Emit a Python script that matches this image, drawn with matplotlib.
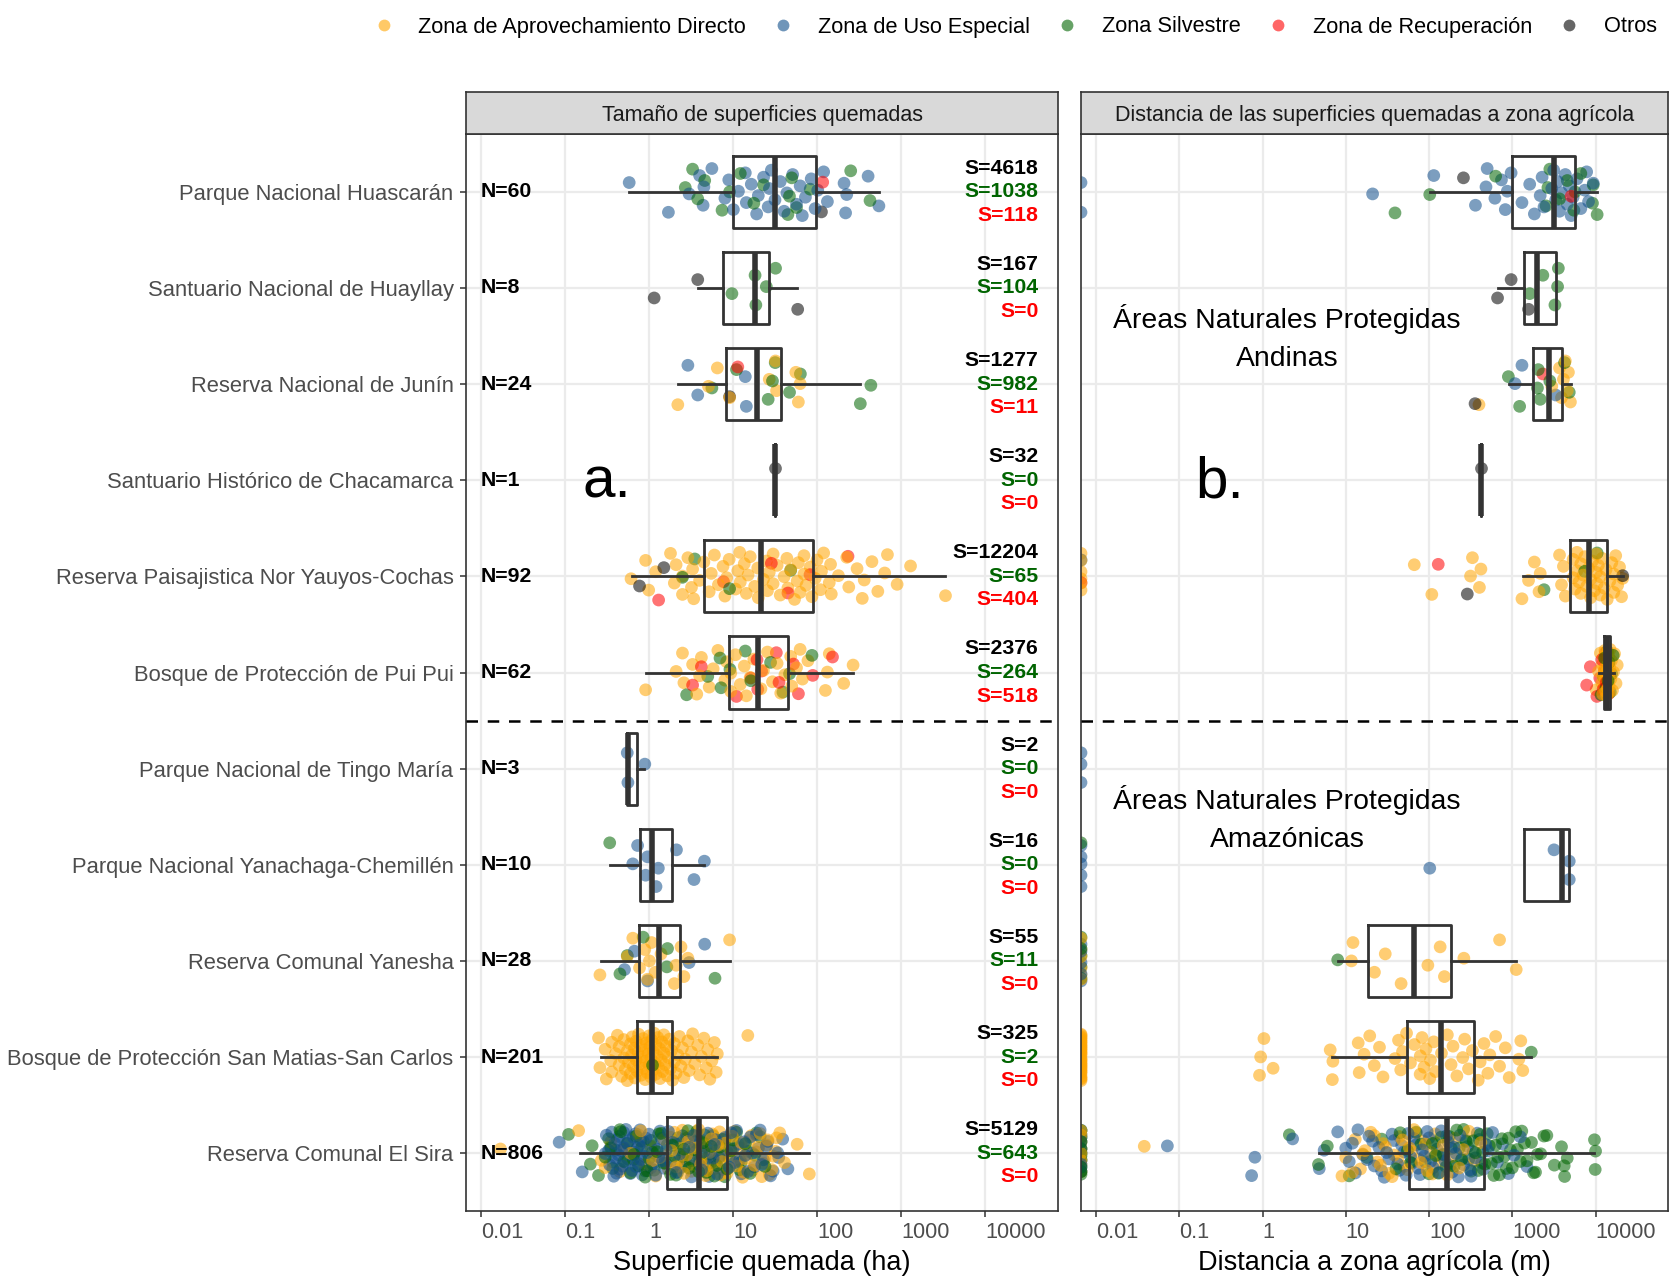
import numpy as np
import matplotlib
matplotlib.use("Agg")
import matplotlib.pyplot as plt
from matplotlib.lines import Line2D
from matplotlib.ticker import NullLocator
import matplotlib.transforms as mtransforms

plt.rcParams["font.family"] = ["Liberation Sans", "DejaVu Sans"]

# ---------------------------------------------------------------- data
anp_keys = ["Huascaran", "Huayllay", "Junin", "Chacamarca", "NorYauyos", "PuiPui",
            "TingoMaria", "Yanachaga", "Yanesha", "SanMatias", "ElSira"]
anp_labels = ["Parque Nacional Huascarán", "Santuario Nacional de Huayllay",
              "Reserva Nacional de Junín", "Santuario Histórico de Chacamarca",
              "Reserva Paisajistica Nor Yauyos-Cochas", "Bosque de Protección de Pui Pui",
              "Parque Nacional de Tingo María", "Parque Nacional Yanachaga-Chemillén",
              "Reserva Comunal Yanesha", "Bosque de Protección San Matias-San Carlos",
              "Reserva Comunal El Sira"]
n_obs = [60, 8, 24, 1, 92, 62, 3, 10, 28, 201, 806]
s_total = [4618, 167, 1277, 32, 12204, 2376, 2, 16, 55, 325, 5129]
s_silvestre = [1038, 104, 982, 0, 65, 264, 0, 0, 11, 2, 643]
s_recuperacion = [118, 0, 11, 0, 404, 518, 0, 0, 0, 0, 0]

zones = ["Zona de Aprovechamiento Directo", "Zona de Uso Especial", "Zona Silvestre",
         "Zona de Recuperación", "Otros"]
zone_colors = ["#FFA500", "#104E8B", "#006400", "#FF0000", "#000000"]

# superficie quemada (ha) per zone
sup_directo = {
    "Junin": [2.2, 5.1, 6.5, 9.1, 27, 32, 33, 56, 60, 63],
    "NorYauyos": [0.61, 0.91, 0.99, 1.2, 1.8, 2.0, 2.1, 2.5, 2.5, 2.9, 3.2, 3.3, 3.4, 4.0, 4.5,
                  5.2, 5.5, 6.0, 6.7, 7.6, 8.0, 8.4, 9.0, 10.7, 11.4, 12, 12.2, 13.6, 14.4, 15.1,
                  16, 18.1, 19.7, 20, 23, 25, 25.7, 27, 30, 30, 33.5, 36.5, 40.6, 43.8, 45, 48.6,
                  54, 58, 60, 63, 70, 70, 74, 83, 87, 95, 100, 110, 113, 120, 140, 145, 148,
                  180, 226, 239, 300, 346, 365, 451, 530, 640, 690, 900, 1300, 3390],
    "PuiPui": [0.91, 2.1, 2.5, 2.6, 3.3, 3.7, 4.0, 4.2, 5.2, 5.8, 6.6, 8.0, 8.4, 9.4, 9.4, 10.7,
               12.2, 13.6, 14.4, 16, 17.7, 21.5, 23, 25.7, 29.5, 33.5, 37, 41.5, 48.6, 50, 57,
               63, 67, 78, 126, 133, 140, 208, 269],
    "Yanesha": [0.26, 0.55, 0.64, 0.77, 0.89, 0.96, 1.01, 1.07, 1.19, 1.39, 2.0, 2.1, 2.4, 2.6,
                2.9, 9.1],
    "SanMatias": [0.25, 0.26, 0.3, 0.31, 0.35, 0.36, 0.36, 0.4, 0.42, 0.44, 0.44, 0.47, 0.5, 0.5,
                  0.52, 0.55, 0.55, 0.57, 0.6, 0.6, 0.62, 0.63, 0.65, 0.67, 0.68, 0.7, 0.7, 0.72,
                  0.74, 0.75, 0.77, 0.8, 0.8, 0.82, 0.85, 0.86, 0.88, 0.9, 0.9, 0.93, 0.95, 0.97,
                  1.0, 1.0, 1.02, 1.05, 1.05, 1.08, 1.1, 1.12, 1.15, 1.18, 1.2, 1.2, 1.25, 1.27,
                  1.3, 1.34, 1.35, 1.4, 1.42, 1.45, 1.5, 1.5, 1.55, 1.6, 1.65, 1.7, 1.75, 1.8,
                  1.85, 1.9, 2.0, 2.0, 2.1, 2.2, 2.3, 2.4, 2.5, 2.6, 2.7, 2.9, 3.0, 3.2, 3.3,
                  3.5, 3.8, 4.0, 4.2, 4.5, 4.8, 5.0, 5.3, 5.6, 6.0, 6.3, 6.5, 15],
    "ElSira": [0.017, 0.145, 0.27, 0.35, 0.45, 0.6, 0.75, 0.9, 1.05, 1.2, 1.35, 1.5, 1.7, 1.85,
               2.0, 2.2, 2.4, 2.6, 2.8, 3.0, 3.3, 3.6, 3.9, 4.2, 4.5, 4.9, 5.3, 5.7, 6.1, 6.6,
               7.1, 7.6, 8.2, 8.8, 9.5, 10.5, 11.5, 12.5, 13.5, 15, 16.5, 18, 20, 22, 24, 26,
               29, 32, 36, 41, 58, 81, 1.6, 1.8, 2.1, 2.3, 2.5, 2.7, 2.9, 3.2, 3.5, 3.7, 4.1,
               4.4, 4.7, 5.1, 5.5, 6.0, 6.4, 6.9, 7.4, 8.0, 8.5, 9.2, 9.8, 11, 12, 13, 14, 15.5,
               17, 19, 21, 23, 25, 27, 30, 33, 0.3, 0.5, 0.8, 1.1],
}
sup_uso = {
    "Huascaran": [0.58, 1.7, 3.0, 4.0, 4.4, 4.5, 5.6, 8.0, 8.9, 10.1, 11.6, 14.0, 14.4, 16.5,
                  19.1, 20, 23.1, 26.2, 27.1, 28.6, 31.6, 36.5, 40.6, 43.8, 51.3, 57, 63, 66.8,
                  72.8, 85.3, 95, 102, 120, 133, 210, 219, 226, 406, 546],
    "Junin": [2.9, 3.8, 14.0, 14.4],
    "TingoMaria": [0.55, 0.56, 0.89],
    "Yanachaga": [0.64, 0.73, 0.91, 0.96, 1.21, 1.29, 2.12, 3.43, 4.56],
    "Yanesha": [0.51, 0.67, 0.96, 3.0, 4.6],
    "ElSira": [0.085, 0.16, 0.3, 0.31, 0.34, 0.35, 0.38, 0.4, 0.42, 0.45, 0.47, 0.5, 0.52, 0.55,
               0.6, 0.62, 0.65, 0.7, 0.72, 0.78, 0.8, 0.85, 0.9, 0.95, 1.0, 1.1, 1.15, 1.2, 1.3,
               1.4, 1.5, 1.6, 1.7, 1.8, 2.0, 2.1, 2.3, 2.5, 2.7, 3.0, 3.2, 3.5, 3.8, 4.2, 4.5,
               5.0, 5.5, 6.0, 6.5, 7.0, 8.0, 9.0, 10, 11, 12, 13.5, 15, 17, 19, 22, 25, 28, 35,
               39, 45, 0.33, 0.36, 0.37, 0.39, 0.41, 0.43, 0.44, 0.48, 0.5, 0.53, 0.56, 0.58,
               0.63, 0.67, 0.69, 0.74, 0.76, 0.83, 0.88, 0.92, 1.05, 1.25, 1.35, 1.45, 1.9, 2.2,
               2.6, 3.4, 4.0, 4.8, 5.2, 5.8, 6.2, 7.5, 8.5, 9.5, 10.5, 11.5, 12.5, 14, 16, 18,
               20, 21, 23, 26, 30, 34],
}
sup_silvestre = {
    "Huascaran": [2.7, 3.3, 3.8, 4.6, 7.4, 9.1, 12.2, 17.7, 23.1, 45, 47, 50, 57, 83, 252, 428],
    "Huayllay": [9.7, 18.3, 18.7, 24.9, 32.1],
    "Junin": [5.6, 11.0, 26.2, 29.5, 31.8, 47.1, 63.4, 328, 438],
    "NorYauyos": [2.5, 3.5, 9.1, 48.6],
    "PuiPui": [2.8, 5.0, 7.0, 7.2, 9.2, 14.0, 16.3, 28.0, 39.3, 47.1, 87.1],
    "Yanachaga": [0.34],
    "Yanesha": [0.45, 0.55, 0.85, 1.63, 1.66, 6.1],
    "SanMatias": [1.1],
    "ElSira": [0.11, 0.2, 0.21, 0.25, 0.3, 0.33, 0.37, 0.4, 0.46, 0.5, 0.55, 0.6, 0.66, 0.7,
               0.75, 0.82, 0.9, 1.0, 1.05, 1.15, 1.25, 1.4, 1.5, 1.65, 1.8, 2.0, 2.2, 2.4, 2.6,
               2.9, 3.2, 3.5, 3.9, 4.2, 4.6, 5.0, 5.5, 6.0, 6.8, 7.5, 8.5, 9.5, 11, 12.5, 14,
               16, 18, 21, 24, 0.35, 0.45, 0.65, 0.8, 0.95, 1.1, 1.3, 1.6, 1.9, 2.1, 2.5, 2.8,
               3.0, 3.4, 3.7, 4.0, 4.4, 4.8, 5.3, 5.8, 6.4, 7.0, 8.0, 9.0, 10, 12, 15, 19],
}
sup_recuperacion = {
    "Huascaran": [117],
    "Junin": [11.4],
    "NorYauyos": [1.3, 7.7, 28.6, 45.1, 82.6, 234],
    "PuiPui": [3.3, 4.2, 11.0, 16.3, 19.3, 19.7, 21.9, 32.8, 35.3, 52.4, 60.1, 89, 153],
}
sup_otros = {
    "Huascaran": [113],
    "Huayllay": [1.15, 3.8, 58.9],
    "Junin": [9.1],
    "Chacamarca": [32],
    "NorYauyos": [0.77, 1.5],
}

# distancia a zona agricola (m) per zone, 0 = sobre la zona agricola
dist_directo = {
    "Junin": [398, 2979, 3690, 3899, 4111, 4335, 4571, 4721, 4989],
    "NorYauyos": [0, 0, 0, 0, 0, 0, 66.5, 108, 315, 332, 403, 420, 1306, 1567, 1841, 2094,
                  2163, 3690, 3899, 4111, 4335, 5370, 5370, 5662, 5984, 5984, 6310, 6653, 6653,
                  7079, 7413, 7816, 8241, 8710, 8710, 9183, 9683, 10209, 10209, 10471, 10789,
                  11376, 11376, 11995, 12647, 13366, 13804, 14859, 15668, 16558, 16558, 17458,
                  18408, 19409, 20512, 21184],
    "PuiPui": [10150, 10870, 11420, 11900, 12080, 12190, 12350, 12440, 12610, 12830, 12950,
               13020, 13180, 13240, 13310, 13470, 13520, 13590, 13640, 13710, 13760, 13880,
               13930, 14020, 14070, 14160, 14230, 14350, 14410, 14580, 14760, 14920, 15240,
               15480, 15960, 16430, 16900, 17600, 18200],
    "Yanesha": [0, 0, 0, 0, 0, 0, 11.7, 12.2, 22.1, 29.8, 46.2, 96.8, 136, 153, 262, 703, 1114],
    "SanMatias": [0, 0, 0, 0, 0, 0, 0, 0, 0, 0, 0, 0, 0, 0, 0, 0, 0, 0, 0, 0, 0, 0, 0, 0, 0,
                  0, 0, 0, 0, 0, 0, 0, 0.92, 0.95, 1.04, 1.34, 6.5, 6.9, 7.0, 14.1, 14.5, 16.6,
                  19.4, 22, 25.4, 28, 39, 43, 45.7, 48, 53.7, 59.8, 66.6, 78.2, 78.5, 82.4, 87,
                  91.8, 102, 104, 114, 120, 141, 166, 184, 194, 216, 254, 268, 298, 332, 390,
                  411, 457, 509, 537, 631, 703, 824, 918, 1199, 1265, 1336],
    "ElSira": [0, 0, 0, 0, 0, 0, 0, 0, 0.038, 9, 10, 13, 15, 17, 20, 24, 28, 33, 38, 44, 50,
               58, 66, 75, 85, 95, 105, 118, 132, 148, 165, 185, 205, 230, 260, 300, 350, 420,
               12, 16, 22, 26, 30, 36, 42, 48, 55, 62, 70, 80, 90, 110, 125],
}
dist_uso = {
    "Huascaran": [0, 0, 21, 114, 361, 483, 499, 618, 741, 824, 871, 968, 1306, 1618, 1841, 2163,
                  2280, 2404, 2979, 3148, 3319, 3499, 3690, 3899, 4335, 4571, 4831, 5093, 5370,
                  5984, 6653, 7413, 7816, 8241, 9376],
    "Junin": [1079, 1306, 3319],
    "NorYauyos": [0],
    "TingoMaria": [0, 0, 0],
    "Yanachaga": [0, 0, 0, 0, 0, 102, 3170, 4830, 4830],
    "Yanesha": [0, 0, 0, 0, 0],
    "ElSira": [0, 0, 0, 0, 0, 0, 0, 0, 0, 0, 0.072, 0.74, 0.81, 2.3, 4.8, 5.5, 8, 11, 12, 13,
               16, 19, 22, 25, 29, 33, 38, 44, 50, 56, 62, 70, 78, 88, 100, 112, 125, 140, 155,
               170, 190, 210, 235, 260, 290, 320, 360, 400, 450, 510, 580, 660, 760, 900, 1050,
               1250, 1500, 10, 14, 18, 21, 27, 31, 36, 42, 47, 53, 60, 66, 74, 83, 95, 105, 118,
               132, 148, 162, 180, 200, 225, 250, 275, 310, 340, 380, 430, 480],
}
dist_silvestre = {
    "Huascaran": [39, 102, 631, 2541, 2679, 2825, 3690, 4571, 5495, 5662, 6653, 9183, 9376,
                  10447],
    "Huayllay": [1618, 2328, 3251, 3499, 3573],
    "Junin": [897, 1225, 2004, 2051, 2163, 2825, 4246, 4831],
    "NorYauyos": [2404, 7413, 10447],
    "PuiPui": [11630, 12420, 12870, 13340, 13690, 13820, 14140, 14470, 15030, 15580, 16290],
    "Yanachaga": [0],
    "Yanesha": [0, 0, 0, 0, 0, 8.0],
    "SanMatias": [1690],
    "ElSira": [0, 0, 0, 0, 0, 0, 0, 0, 0, 0, 2.1, 4.7, 6, 11, 18, 27, 40, 55, 70, 90, 110, 130,
               150, 175, 200, 230, 260, 300, 340, 390, 440, 500, 560, 630, 700, 800, 900, 1000,
               1150, 1300, 1500, 1700, 1900, 2200, 2600, 3200, 3900, 4250, 4570, 9700, 9900,
               10000, 45, 60, 80, 100, 120, 140, 160, 185, 215, 245, 280, 320, 360, 410, 470,
               530, 600, 670, 750, 850, 950, 1100, 1250, 1400, 1800, 2000, 2400, 4200],
}
dist_recuperacion = {
    "Huascaran": [5093],
    "Junin": [2328],
    "NorYauyos": [0, 129],
    "PuiPui": [7820, 8650, 10380, 11240, 11870, 12330, 12760, 13090, 13420, 13960, 14380, 14830],
}
dist_otros = {
    "Huascaran": [259],
    "Huayllay": [665, 968, 1567],
    "Junin": [357],
    "Chacamarca": [420],
    "NorYauyos": [288, 21184],
}

# boxplot statistics (None = no box)
sup_q1 = [9.9, 7.6, 8.3, 32, 4.5, 8.9, 0.545, 0.79, 0.76, 0.71, 1.63]
sup_med = [31.8, 18.3, 19.3, 32, 21.5, 20.1, 0.56, 1.09, 1.32, 1.09, 3.89]
sup_q3 = [98, 27, 37.7, 32, 89, 45, 0.71, 1.87, 2.34, 1.87, 8.4]
sup_lo = [0.58, 3.8, 2.2, 32, 0.63, 0.93, 0.545, 0.34, 0.27, 0.27, 0.15]
sup_hi = [546, 58, 328, 32, 3388, 268, 0.87, 4.56, 9.1, 6.5, 81]

dist_q1 = [1000, 1380, 1783, 420, 4877, 12650, None, 1365, 18.6, 55, 56.7]
dist_med = [3148, 1985, 2768, 420, 8245, 13800, None, 3980, 66.6, 141, 165]
dist_q3 = [5665, 3357, 3936, 420, 13800, 14870, None, 4830, 184, 350, 457]
dist_lo = [104, 665, 918, 420, 1336, 11000, None, 1365, 8.07, 6.9, 4.8]
dist_hi = [10440, 3357, 5094, 420, 21170, 16800, None, 4830, 1113, 1655, 9685]

# ---------------------------------------------------------------- layout
W, H = 1676, 1276
fig = plt.figure(figsize=(W / 100, H / 100), dpi=100)
XMIN, XMAX = 10 ** -2.18, 10 ** 4.87
panel_bottom = 1 - 1211 / H
panel_top = 1 - 134 / H
strip_h = 42 / H
panels = [(466 / W, 592 / W), (1081 / W, 587 / W)]
line_col = "#333333"


def draw_panel(ax, zone_dicts, q1, med, q3, lo, hi):
    ax.set_xscale("log")
    ax.set_xlim(XMIN, XMAX)
    ax.set_ylim(11.6, 0.4)
    ax.xaxis.set_minor_locator(NullLocator())
    ax.set_xticks([0.01, 0.1, 1, 10, 100, 1000, 10000])
    ax.set_xticklabels(["0.01", "0.1", "1", "10", "100", "1000", "10000"])
    for lab in ax.get_xticklabels():
        lab.set_horizontalalignment("left")
    ax.set_yticks(range(1, 12))
    ax.grid(True, color="#EBEBEB", lw=1.6)
    ax.set_axisbelow(True)
    for sp in ax.spines.values():
        sp.set_color(line_col)
        sp.set_linewidth(1.2)
    ax.tick_params(axis="x", length=4, width=1.1, color=line_col, labelcolor="#4D4D4D",
                   labelsize=15.7, pad=4)

    for i, key in enumerate(anp_keys):
        row = i + 1
        xs, cs = [], []
        for zd, col in zip(zone_dicts, zone_colors):
            vals = np.asarray(zd.get(key, []), dtype=float)
            xs.append(np.where(vals > 0, vals, XMIN))  # 0 -> left border, like -Inf
            cs += [col] * vals.size
        x = np.concatenate(xs)
        if x.size == 0:
            continue
        k = np.arange(x.size)
        y = row + 0.25 * (2 * ((k * 0.6180339887 + 0.31 * row) % 1.0) - 1)
        order = np.argsort((k * 0.7548776662) % 1.0)  # mix the drawing order of zones
        ax.scatter(x[order], y[order], s=84, c=[cs[j] for j in order], alpha=0.55,
                   linewidths=0, zorder=2, clip_on=True)

    stats, pos = [], []
    for i in range(len(anp_keys)):
        if q1[i] is None:
            continue
        stats.append(dict(q1=q1[i], med=med[i], q3=q3[i], whislo=lo[i], whishi=hi[i], fliers=[]))
        pos.append(i + 1)
    ax.bxp(stats, positions=pos, widths=0.75, vert=False, showfliers=False, showcaps=False,
           boxprops=dict(color=line_col, lw=2.0),
           whiskerprops=dict(color=line_col, lw=2.0),
           medianprops=dict(color=line_col, lw=4.0, solid_capstyle="butt"),
           manage_ticks=False, zorder=3)
    ax.axhline(6.5, color="black", lw=1.8, ls=(0, (4.6, 3.9)), zorder=4)


def add_strip(x0, w, text):
    sax = fig.add_axes([x0, panel_top, w, strip_h])
    sax.set_facecolor("#D9D9D9")
    sax.set_xticks([])
    sax.set_yticks([])
    for sp in sax.spines.values():
        sp.set_color(line_col)
        sp.set_linewidth(1.2)
    sax.text(0.5, 0.45, text, ha="center", va="center", fontsize=15.5, color="#1A1A1A",
             transform=sax.transAxes)


ax_a = fig.add_axes([panels[0][0], panel_bottom, panels[0][1], panel_top - panel_bottom])
ax_b = fig.add_axes([panels[1][0], panel_bottom, panels[1][1], panel_top - panel_bottom])

draw_panel(ax_a, [sup_directo, sup_uso, sup_silvestre, sup_recuperacion, sup_otros],
           sup_q1, sup_med, sup_q3, sup_lo, sup_hi)
draw_panel(ax_b, [dist_directo, dist_uso, dist_silvestre, dist_recuperacion, dist_otros],
           dist_q1, dist_med, dist_q3, dist_lo, dist_hi)

ax_a.set_yticklabels(anp_labels)
ax_a.tick_params(axis="y", length=4, width=1.1, color=line_col, labelcolor="#4D4D4D",
                 labelsize=15.8, pad=5)
ax_b.tick_params(axis="y", length=0, labelleft=False)

ax_a.set_xlabel("Superficie quemada (ha)", fontsize=19.5, labelpad=5)
ax_b.set_xlabel("Distancia a zona agrícola (m)", fontsize=19.5, labelpad=5)

add_strip(panels[0][0], panels[0][1], "Tamaño de superficies quemadas")
add_strip(panels[1][0], panels[1][1], "Distancia de las superficies quemadas a zona agrícola")

# N and S annotations
tr_a = mtransforms.blended_transform_factory(ax_a.transAxes, ax_a.transData)
for i in range(len(anp_keys)):
    row = i + 1
    ax_a.text(0.025, row, f"N={n_obs[i]}", transform=tr_a, ha="left", va="center",
              fontsize=15.3, fontweight="bold", color="black", zorder=5)
    ax_a.text(0.967, row - 0.245, f"S={s_total[i]}", transform=tr_a, ha="right", va="center",
              fontsize=15.3, fontweight="bold", color="black")
    ax_a.text(0.967, row, f"S={s_silvestre[i]}", transform=tr_a, ha="right", va="center",
              fontsize=15.3, fontweight="bold", color="#006400")
    ax_a.text(0.967, row + 0.245, f"S={s_recuperacion[i]}", transform=tr_a, ha="right",
              va="center", fontsize=15.3, fontweight="bold", color="#FF0000")

ax_a.text(0.238, 4.02, "a.", transform=tr_a, ha="center", va="center", fontsize=42)
tr_b = mtransforms.blended_transform_factory(ax_b.transAxes, ax_b.transData)
ax_b.text(0.237, 4.02, "b.", transform=tr_b, ha="center", va="center", fontsize=42)
ax_b.text(0.351, 2.52, "Áreas Naturales Protegidas\nAndinas", transform=tr_b, ha="center",
          va="center", fontsize=20.4, linespacing=1.6)
ax_b.text(0.351, 7.52, "Áreas Naturales Protegidas\nAmazónicas", transform=tr_b, ha="center",
          va="center", fontsize=20.4, linespacing=1.6)

# legend
handles = [Line2D([], [], ls="none", marker="o", markersize=8.5, markerfacecolor=c,
                  markeredgewidth=0, alpha=0.6) for c in zone_colors]
fig.legend(handles, zones, loc="center right", bbox_to_anchor=(1657 / W, 1 - 27 / H),
           ncol=5, frameon=False, fontsize=15.7, handlelength=1.0, handletextpad=1.1,
           columnspacing=1.2, borderpad=0, borderaxespad=0)

fig.savefig("out.png", dpi=100)
